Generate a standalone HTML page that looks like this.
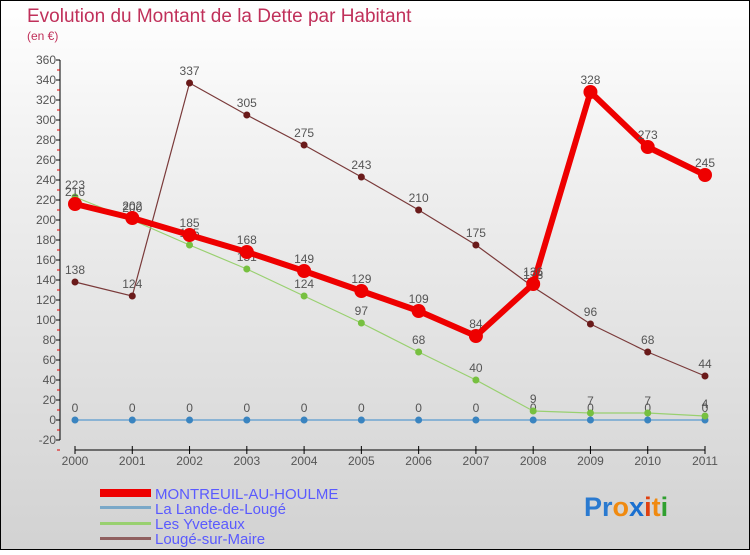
<!DOCTYPE html>
<html><head><meta charset="utf-8"><style>
html,body{margin:0;padding:0;}
body{width:750px;height:550px;overflow:hidden;font-family:"Liberation Sans",sans-serif;}
svg text{font-family:"Liberation Sans",sans-serif;}
</style></head><body>
<svg id="chart" width="750" height="550" xmlns="http://www.w3.org/2000/svg">
<defs><linearGradient id="bg" x1="0" y1="0" x2="0" y2="1"><stop offset="0" stop-color="#ffffff"/><stop offset="0.3" stop-color="#f0f0f0"/><stop offset="1" stop-color="#d2d2d2"/></linearGradient></defs>
<rect x="0.5" y="0.5" width="749" height="549" fill="url(#bg)" stroke="#000"/>
<text x="27" y="22" font-size="19" fill="#c0305a">Evolution du Montant de la Dette par Habitant</text>
<text x="27" y="40" font-size="12" fill="#c0305a">(en €)</text>
<g id="axes"></g><g id="series"></g>
<g>
<rect x="100" y="489" width="51" height="8" fill="#ee0000"/>
<text x="155" y="499" font-size="15" fill="#5a5aff">MONTREUIL-AU-HOULME</text>
<rect x="100" y="506" width="51" height="3" fill="#7aa8c8"/>
<text x="155" y="514" font-size="15" fill="#5a5aff">La Lande-de-Lougé</text>
<rect x="100" y="522" width="51" height="3" fill="#99d070"/>
<text x="155" y="529" font-size="15" fill="#5a5aff">Les Yveteaux</text>
<rect x="100" y="537" width="51" height="3" fill="#906060"/>
<text x="155" y="544" font-size="15" fill="#5a5aff">Lougé-sur-Maire</text>
</g>
<text x="584" y="516" font-size="27" font-weight="bold"><tspan fill="#2a7ad0">Pr</tspan><tspan fill="#f08a10">o</tspan><tspan fill="#1a70d0">x</tspan><tspan fill="#e04010">i</tspan><tspan fill="#f08a10">t</tspan><tspan fill="#30a030">i</tspan></text>
</svg>
<script>
const years=[2000,2001,2002,2003,2004,2005,2006,2007,2008,2009,2010,2011];
const yTicks=[-20,0,20,40,60,80,100,120,140,160,180,200,220,240,260,280,300,320,340,360];
const montreuil=[216,202,185,168,149,129,109,84,136,328,273,245];
const lande=[0,0,0,0,0,0,0,0,0,0,0,0];
const yveteaux=[223,200,175,151,124,97,68,40,9,7,7,4];
const louge=[138,124,337,305,275,243,210,175,133,96,68,44];
const NS="http://www.w3.org/2000/svg";
const xs=i=>75+i*(630/11);
const ys=v=>420-v;
function mk(tag,attrs,parent){const e=document.createElementNS(NS,tag);for(const k in attrs)e.setAttribute(k,attrs[k]);parent.appendChild(e);return e;}
const ax=document.getElementById('axes');
let yl=mk('line',{x1:60,y1:ys(-20),x2:60,y2:ys(360),stroke:'#000'},ax);


yTicks.forEach(t=>{
 mk('line',{x1:56,x2:60,y1:ys(t),y2:ys(t),stroke:'#000'},ax);
 mk('line',{x1:57,x2:60,y1:ys(t)+10,y2:ys(t)+10,stroke:'#e00000'},ax);
 const tx=mk('text',{x:56,y:ys(t)+4,'font-size':12,fill:'#555','text-anchor':'end'},ax);
 tx.textContent=t;
 
 
});
let xl=mk('line',{x1:75,y1:450,x2:705,y2:450,stroke:'#000'},ax);


years.forEach((y,i)=>{
 mk('line',{x1:xs(i),x2:xs(i),y1:446,y2:454,stroke:'#000'},ax);
 const tx=mk('text',{x:xs(i),y:465,'font-size':12,fill:'#555','text-anchor':'middle'},ax);
 tx.textContent=y;
 
 
});
const sg=document.getElementById('series');
function draw(vals,name,color,w,r,dot){
 const g=mk('g',{},sg);
 
 
 const pl=mk('polyline',{points:vals.map((v,i)=>xs(i)+','+ys(v)).join(' '),fill:'none',stroke:color,'stroke-width':w,'stroke-linejoin':'round'},g);
 
 
 vals.forEach((v,i)=>{
  const c=mk('circle',{cx:xs(i),cy:ys(v),r:r,fill:dot},g);
  
  
  const t=mk('text',{x:xs(i),y:ys(v)-8,'font-size':12,fill:'#555','text-anchor':'middle'},g);
  t.textContent=v;
  
  
 });
}
draw(louge,'louge','#7a3a3a',1.2,3.5,'#6a1a1a');
draw(lande,'lande','#5a9ad0',1.2,3.5,'#3a84c0');
draw(yveteaux,'yveteaux','#99d070',1.2,3.5,'#77c040');
draw(montreuil,'montreuil','#ee0000',6,7,'#ee0000');
</script>
</body></html>
